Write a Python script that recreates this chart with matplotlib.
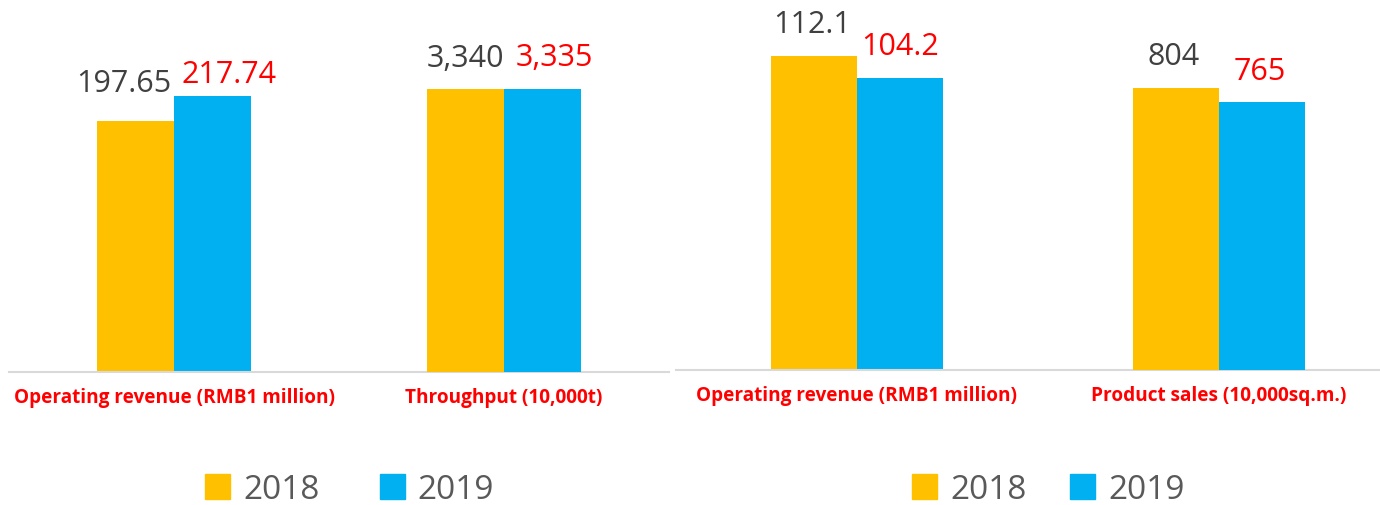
import matplotlib.pyplot as plt
from matplotlib.patches import Patch

plt.rcParams['font.family'] = ['Open Sans', 'DejaVu Sans']

# data
years = ['2018', '2019']
left_categories = ['Operating revenue (RMB1 million)', 'Throughput (10,000t)']
left_2018 = [197.65, 3340]
left_2019 = [217.74, 3335]
left_labels_2018 = ['197.65', '3,340']
left_labels_2019 = ['217.74', '3,335']

right_categories = ['Operating revenue (RMB1 million)', 'Product sales (10,000sq.m.)']
right_2018 = [112.1, 804]
right_2019 = [104.2, 765]
right_labels_2018 = ['112.1', '804']
right_labels_2019 = ['104.2', '765']

YELLOW = '#FFC000'
BLUE = '#00B0F0'
RED = '#FF0000'
DARK = '#404040'
GRID = '#D9D9D9'

W, H = 1380, 506
fig = plt.figure(figsize=(W / 100, H / 100), dpi=100)


def panel(rect, cats, v18, v19, lab18, lab19, width, ylims, offs18, offs19):
    ax = fig.add_axes(rect)
    ax2 = ax.twinx()
    axes = [ax, ax2]
    for i, a in enumerate(axes):
        a.bar(i - width / 2, v18[i], width, color=YELLOW)
        a.bar(i + width / 2, v19[i], width, color=BLUE)
        a.annotate(lab18[i], (i - width / 2, v18[i]), xytext=offs18[i],
                   textcoords='offset pixels', ha='center', va='baseline',
                   fontsize=22, color=DARK)
        a.annotate(lab19[i], (i + width / 2, v19[i]), xytext=offs19[i],
                   textcoords='offset pixels', ha='center', va='baseline',
                   fontsize=22, color=RED)
        a.set_ylim(0, ylims[i])
        a.set_yticks([])
        for s in ['top', 'left', 'right', 'bottom']:
            a.spines[s].set_visible(False)
        a.set_xlim(-0.5, 1.5)
    ax.spines['bottom'].set_visible(True)
    ax.spines['bottom'].set_color(GRID)
    ax.spines['bottom'].set_linewidth(1.5)
    ax.set_xticks([0, 1])
    ax.set_xticklabels(cats, color=RED, fontsize=13.7, fontweight='bold')
    ax.tick_params(axis='x', length=0, pad=10.5)
    ax.patch.set_alpha(0)
    return ax


panel([9 / W, 133 / H, 660 / W, 373 / H], left_categories,
      left_2018, left_2019, left_labels_2018, left_labels_2019,
      0.233, [294.3, 4402],
      [(-12, 30), (0, 23)], [(17, 14), (12, 24)])

panel([676 / W, 135 / H, 724 / W, 371 / H], right_categories,
      right_2018, right_2019, right_labels_2018, right_labels_2019,
      0.238, [132.4, 1057.8],
      [(-2, 24), (-2, 24)], [(0, 24), (-2, 23)])

handles = [Patch(color=YELLOW), Patch(color=BLUE)]
for cx, colsp in [(349.5, 1.8), (1048, 1.3)]:
    fig.legend(handles, years, loc='center', bbox_to_anchor=(cx / W, 15.5 / H),
               ncol=2, frameon=False, fontsize=24, labelcolor='#595959',
               handlelength=0.75, handleheight=0.75, handletextpad=0.4,
               columnspacing=colsp)

fig.savefig('out.png', dpi=100)
